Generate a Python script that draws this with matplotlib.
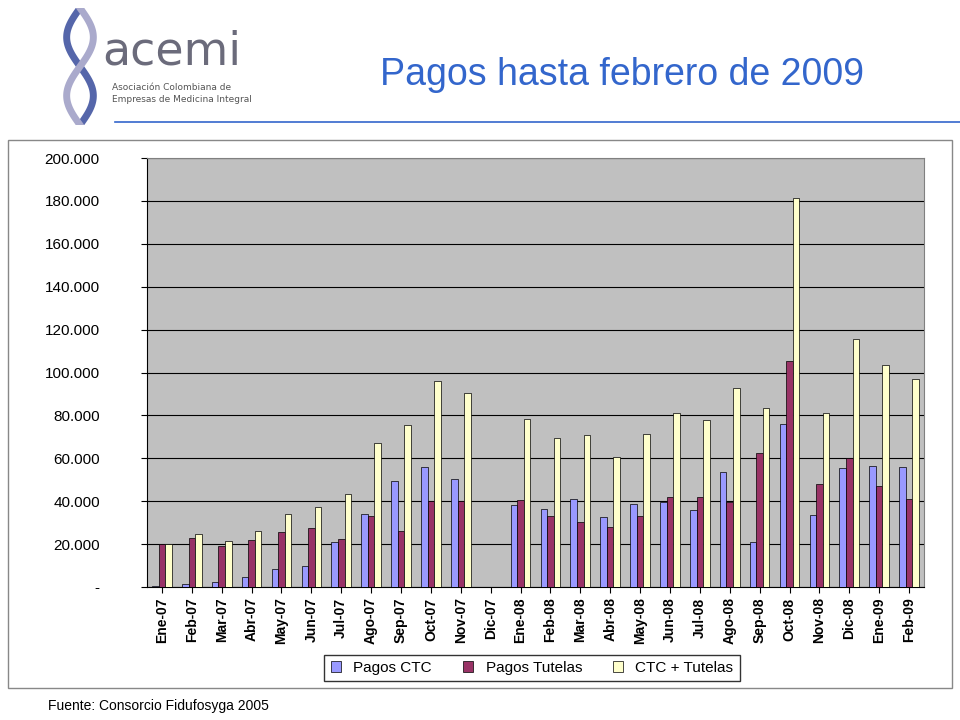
import matplotlib
matplotlib.use("Agg")
import matplotlib.pyplot as plt
import numpy as np
from matplotlib.patches import Rectangle

months = ["Ene-07","Feb-07","Mar-07","Abr-07","May-07","Jun-07","Jul-07","Ago-07","Sep-07","Oct-07","Nov-07","Dic-07",
          "Ene-08","Feb-08","Mar-08","Abr-08","May-08","Jun-08","Jul-08","Ago-08","Sep-08","Oct-08","Nov-08","Dic-08",
          "Ene-09","Feb-09"]
pagos_ctc = [500,1500,2500,4500,8500,10000,21000,34000,49500,56000,50500,0,
             38000,36500,41000,32500,38500,39500,36000,53500,21000,76000,33500,55500,56500,56000]
pagos_tutelas = [20000,23000,19000,22000,25500,27500,22500,33000,26000,40000,40000,0,
                 40500,33000,30500,28000,33000,42000,42000,39500,62500,105500,48000,60000,47000,41000]
ctc_tutelas = [20000,24500,21500,26000,34000,37500,43500,67000,75500,96000,90500,0,
               78500,69500,71000,60500,71500,81000,78000,93000,83500,181500,81000,115500,103500,97000]
yticks = [0,20000,40000,60000,80000,100000,120000,140000,160000,180000,200000]
ylabels = ["-","20.000","40.000","60.000","80.000","100.000","120.000","140.000","160.000","180.000","200.000"]

fig = plt.figure(figsize=(9.6,7.2), dpi=100)
W, H = 960, 720
def fx(x): return x/W
def fy(y): return 1-y/H

# header
fig.text(fx(622), fy(75), "Pagos hasta febrero de 2009", color="#3366CC", fontsize=27,
         ha="center", va="center", family="Liberation Sans")
fig.text(fx(102), fy(52), "acemi", color="#6B6B7B", fontsize=33, ha="left", va="center", family="DejaVu Sans")
fig.text(fx(112), fy(88), "Asociación Colombiana de", color="#555555", fontsize=6.5, ha="left", va="center")
fig.text(fx(112), fy(99), "Empresas de Medicina Integral", color="#555555", fontsize=6.5, ha="left", va="center")
fig.lines.append(plt.Line2D([fx(115), 1], [fy(122), fy(122)], color="#3366CC", lw=1.2, transform=fig.transFigure))
t = np.linspace(0, 1, 100)
ax_logo = fig.add_axes([fx(60), fy(125), fx(40), fy(8)-fy(125)])
ax_logo.plot(np.sin(t*2*np.pi)*0.8, t, color="#5566AA", lw=5)
ax_logo.plot(-np.sin(t*2*np.pi)*0.8, t, color="#AAAACC", lw=5)
ax_logo.set_xlim(-1.2,1.2); ax_logo.set_ylim(0,1); ax_logo.axis("off")

fig.patches.append(Rectangle((fx(8), fy(688)), fx(944), fy(140)-fy(688), fill=False,
                             edgecolor="#888888", lw=1, transform=fig.transFigure))

ax = fig.add_axes([fx(147), fy(587), fx(777), fy(158)-fy(587)])
ax.set_facecolor("#C0C0C0")
x = np.arange(len(months))
w = 0.22
kw = dict(edgecolor="black", linewidth=0.5, zorder=3)
ax.bar(x-w, pagos_ctc, w, color="#9999FF", label="Pagos CTC", **kw)
ax.bar(x, pagos_tutelas, w, color="#993366", label="Pagos Tutelas", **kw)
ax.bar(x+w, ctc_tutelas, w, color="#FFFFCC", label="CTC + Tutelas", **kw)
ax.set_xlim(-0.5, len(months)-0.5)
ax.set_ylim(0, 200000)
ax.set_yticks(yticks)
ax.set_yticklabels(ylabels, fontsize=11, family="Liberation Sans")
ax.yaxis.grid(True, color="black", lw=0.8, zorder=1)
ax.set_xticks(x)
ax.set_xticklabels(months, rotation=90, fontsize=10, family="Liberation Sans", fontweight="bold")
for s in ["top","right"]:
    ax.spines[s].set_color("#808080")
ax.tick_params(axis="y", length=4, pad=30)
ax.tick_params(axis="x", length=4)
fig.legend(loc="center", bbox_to_anchor=(fx(532), fy(668)), ncol=3, frameon=True,
           fancybox=False, edgecolor="black", handlelength=0.7,
           prop={"family":"Liberation Sans", "size":11})

fig.text(fx(48), fy(706), "Fuente: Consorcio Fidufosyga 2005", fontsize=10, ha="left", va="center",
         family="Liberation Sans")
fig.savefig("out.png", dpi=100)
